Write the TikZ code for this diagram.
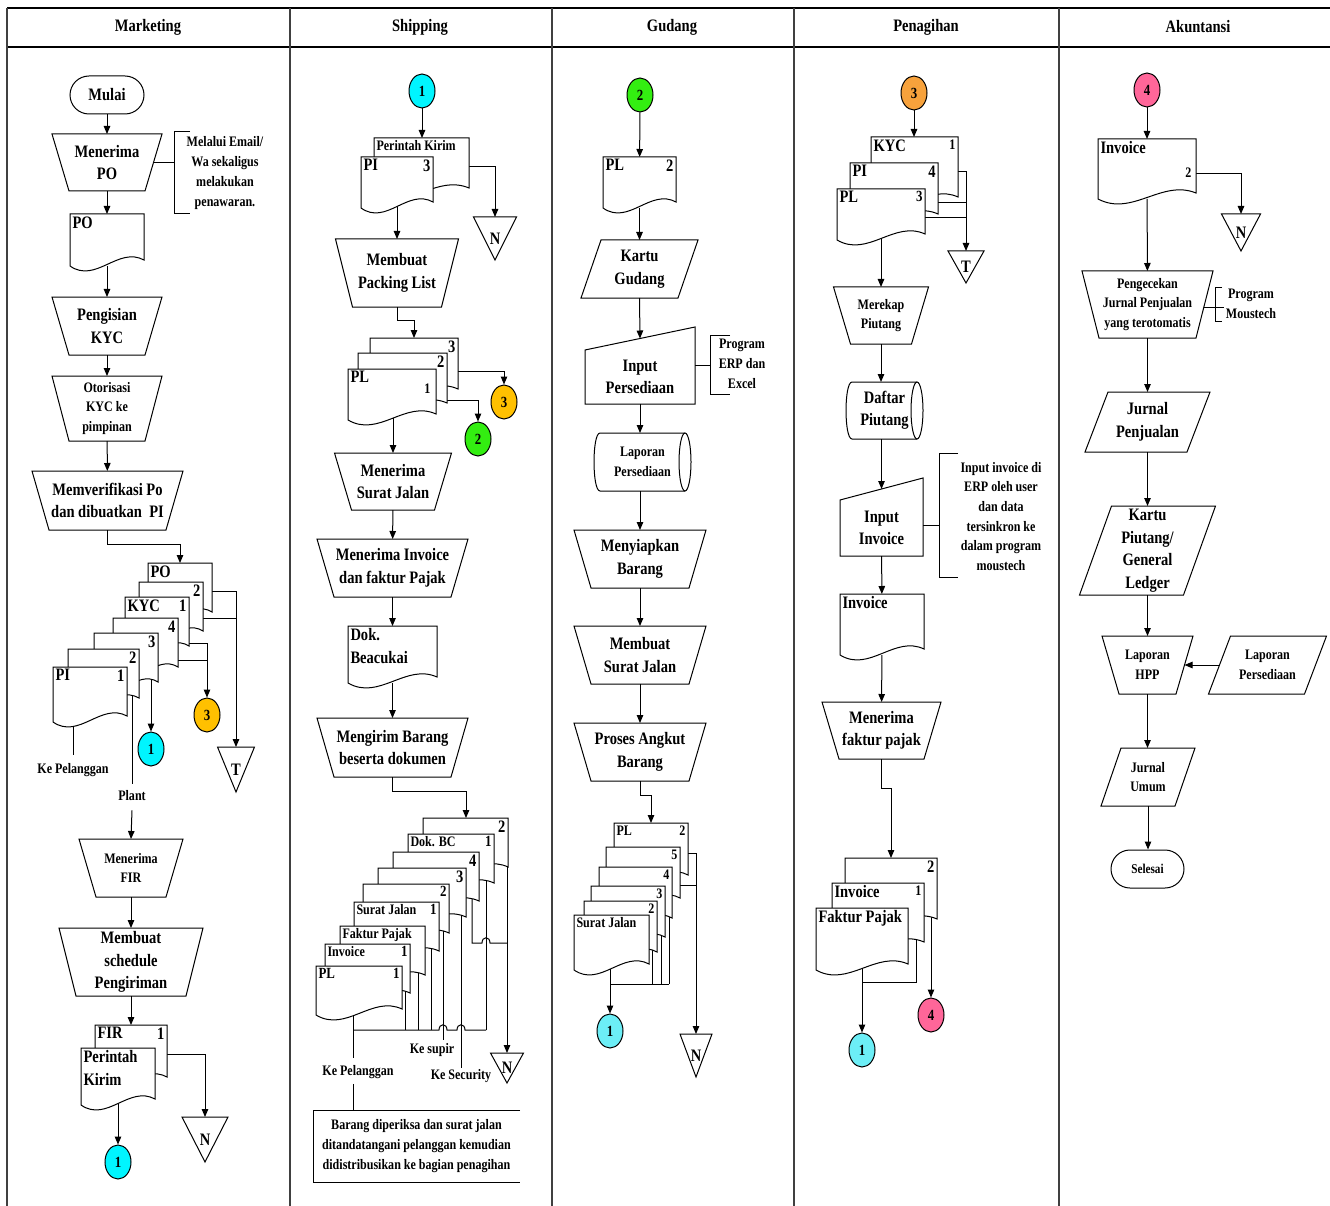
\documentclass[tikz,border=0pt]{standalone}
\usepackage{fontspec}
\setmainfont{Liberation Serif}[FakeStretch=0.83]
\usetikzlibrary{shapes.geometric,shapes.misc,calc,arrows.meta}
\pgfdeclarelayer{back}
\pgfdeclarelayer{bg}
\pgfsetlayers{back,bg,main}
\definecolor{cyanA}{HTML}{00F5FF}
\definecolor{cyanB}{HTML}{6CEEF6}
\definecolor{grn}{HTML}{33EE11}
\definecolor{gold}{HTML}{FFC000}
\definecolor{orng}{HTML}{F7A23C}
\definecolor{pnk}{HTML}{FF6699}
\newcommand\fbig{\fontsize{17.5}{22.5}\selectfont}
\newcommand\fmid{\fontsize{15.5}{20}\selectfont}
\newcommand\fsm{\fontsize{14.5}{19.7}\selectfont}
\tikzset{
 shp/.style={draw, line width=1pt, line join=miter},
 box/.style={inner sep=0pt, outer sep=0pt, align=center, font=\bfseries\fbig},
 sm/.style={font=\bfseries\fsm},
 dl/.style={inner sep=2.5pt, outer sep=0pt, align=left, font=\bfseries\fbig},
 lbl/.style={inner sep=1pt, align=center, font=\bfseries\fsm},
 conn/.style={ellipse, draw, line width=1pt, minimum width=26, minimum height=34, inner sep=0pt, font=\bfseries\fmid},
 term/.style={rounded rectangle, draw, line width=1pt, inner sep=0pt, font=\bfseries\fbig},
 ln/.style={line width=1pt},
 arr/.style={line width=1pt, -{Triangle[length=8pt,width=6.5pt]}},
}
% manual operation: [opts] name, cx, top y, top width, height, text
\newcommand\ManOp[7][]{%
  \node[box, #1, minimum width=#5, minimum height=#6] (#2) at (#3,{#4+#6/2}) {#7};
  \draw[shp] (#2.north west) -- (#2.north east) -- ($(#2.south east)+(-17,0)$) -- ($(#2.south west)+(17,0)$) -- cycle;}
% parallelogram: [opts] name, cx, top y, width, height, shift, text
\newcommand\Para[8][]{%
  \node[box, #1, minimum width=#5, minimum height=#6] (#2) at (#3,{#4+#6/2}) {#8};
  \draw[shp] ($(#2.north west)+(#7/2,0)$) -- ($(#2.north east)+(#7/2,0)$) -- ($(#2.south east)+(-#7/2,0)$) -- ($(#2.south west)+(-#7/2,0)$) -- cycle;}
% manual input: name, x1, y top-left, x2, y top-right, y bottom, text
\newcommand\ManIn[7]{%
  \node[box, minimum width={#4-#2}, minimum height={#6-#3}] (#1) at ({(#2+#4)/2},{(#3+#6)/2}) {#7};
  \draw[shp] (#1.north west) -- ($(#1.north east)+(0,{#5-#3})$) -- (#1.south east) -- (#1.south west) -- cycle;
  \coordinate (#1-top) at ($(#1.north)+(0,{(#5-#3)/2})$);}
% stored data cylinder: [opts] name, x1, yt, x2, yb, text
\newcommand\Cyl[7][]{%
  \node[box, #1, minimum width={#5-#3}, minimum height={#6-#4}] (#2) at ({(#3+#5)/2},{(#4+#6)/2}) {#7};
  \draw[shp] ({#5-6},#4) -- ({#3+6},#4) .. controls ({#3-2},#4) and ({#3-2},#6) .. ({#3+6},#6) -- ({#5-6},#6);
  \draw[shp] ({#5-6},{(#4+#6)/2}) ellipse [x radius=6, y radius={(#6-#4)/2}];}
% off-page triangle: name, cx, top y, width, height, letter
\newcommand\OffPg[6]{%
  \node[box, minimum width=#4, minimum height=#5] (#1) at (#2,{#3+#5/2}) {#6};
  \draw[shp] (#1.north west) -- (#1.north east) -- (#1.south) -- cycle;}
% document: name, x1, y1, x2, y bottom-left
\newcommand\Doc[5]{%
  \node[box, minimum width={#4-#2}, minimum height={#5-#3}] (#1) at ({(#2+#4)/2},{(#3+#5)/2}) {};
  \draw[shp, fill=white] (#2,#5) -- (#2,#3) -- (#4,#3) -- (#4,{#5-6}) .. controls ({#2+0.65*(#4-#2)},{#5-20}) and ({#2+0.35*(#4-#2)},{#5+18}) .. (#2,#5) -- cycle;}
\newcommand\DocL[2]{\node[dl, anchor=north west] (#1-l) at (#1.north west) {#2};}
\newcommand\DocN[2]{\node[dl, anchor=north east] (#1-n) at (#1.north east) {#2};}

\begin{document}
\begin{tikzpicture}[x=1pt,y=-1pt]
\useasboundingbox (0,0) rectangle (1330,1206);
\begin{pgfonlayer}{back}
\fill[white] (0,0) rectangle (1330,1206);
\end{pgfonlayer}
% ---------- frame ----------
\draw[line width=1.2pt] (7,8) -- (1330,8);
\draw[line width=1.5pt] (7,47) -- (1330,47);
\foreach \x in {7,290,552,794,1059} \draw[line width=1.2pt, black!75] (\x,8) -- (\x,1206);
\node[font=\bfseries\fbig] (hMk) at (148,27) {Marketing};
\node[font=\bfseries\fbig] (hSh) at (420,27) {Shipping};
\node[font=\bfseries\fbig] (hGd) at (672,27) {Gudang};
\node[font=\bfseries\fbig] (hPn) at (926,27) {Penagihan};
\node[font=\bfseries\fbig] (hAk) at (1198,27) {Akuntansi};

% ---------- Marketing ----------
\node[term, minimum width=74, minimum height=38] (mulai) at (107,95) {Mulai};
\ManOp{mpo}{107}{134}{110}{57}{Menerima\\PO}
\node[lbl] (mnote) at (225,173) {Melalui Email/\\Wa sekaligus\\melakukan\\penawaran.};
\draw[ln] (190,132) -- (174,132) -- (174,214) -- (190,214);
\Doc{mpod}{70}{214}{144}{266} \DocL{mpod}{PO}
\ManOp{mkyc}{107}{297}{110}{58}{Pengisian\\KYC}
\ManOp[sm]{motr}{107}{376}{110}{65}{Otorisasi\\KYC ke\\pimpinan}
\ManOp{mver}{107.5}{471}{151}{59}{Memverifikasi Po\\dan dibuatkan\ \ PI}
\Doc{ma1}{148}{563}{212}{618} \DocL{ma1}{PO}
\Doc{ma2}{139}{582}{203}{637} \DocN{ma2}{2}
\Doc{ma3}{125}{597}{189}{652} \DocL{ma3}{KYC} \DocN{ma3}{1}
\Doc{ma4}{113}{618}{178}{673} \DocN{ma4}{4}
\Doc{ma5}{94}{633}{158}{688} \DocN{ma5}{3}
\Doc{ma6}{68}{649}{139}{704} \DocN{ma6}{2}
\Doc{ma7}{53}{667}{127}{722} \DocL{ma7}{PI} \DocN{ma7}{1}
\node[conn, fill=cyanA] (m1c) at (151,749) {1};
\node[conn, fill=gold] (m3c) at (207,715) {3};
\OffPg{mT}{236}{747}{37}{45}{T}
\node[lbl] (mkp) at (73,770) {Ke Pelanggan};
\node[lbl] (mplant) at (132,796) {Plant};
\ManOp[sm]{mfir}{131}{839}{104}{58}{Menerima\\FIR}
\ManOp{msch}{131}{928}{144}{68}{Membuat\\schedule\\Pengiriman}
\Doc{mfird}{95}{1025}{167}{1083} \DocL{mfird}{FIR} \DocN{mfird}{1}
\Doc{mpk}{81}{1048}{155}{1105} \DocL{mpk}{Perintah\\Kirim}
\node[conn, fill=cyanA] (m1d) at (118,1162) {1};
\OffPg{mN}{205}{1117}{46}{45}{N}

% ---------- Shipping ----------
\node[conn, fill=cyanA] (s1c) at (422,91) {1};
\Doc{spk}{374}{138}{469}{194} \DocL{spk}{\fsm Perintah Kirim}
\Doc{spi}{361}{157}{433}{208} \DocL{spi}{PI} \DocN{spi}{3}
\OffPg{sN1}{495}{217}{43}{43}{N}
\ManOp{smpl}{397}{239}{123}{68}{Membuat\\Packing List}
\Doc{sa3}{370}{338}{458}{395} \DocN{sa3}{3}
\Doc{sa2}{358}{353}{447}{409} \DocN{sa2}{2}
\Doc{spl}{348}{369}{436}{420} \DocL{spl}{PL}
\node[dl, anchor=north east] (spl-n) at ($(spl.north east)+(-3,12)$) {\fsm 1};
\node[conn, fill=gold] (s3c) at (504,402) {3};
\node[conn, fill=grn] (s2c) at (478,439) {2};
\ManOp{smsj}{393}{453}{117}{57}{Menerima\\Surat Jalan}
\ManOp{smi}{392.5}{539}{151}{58}{Menerima Invoice\\dan faktur Pajak}
\Doc{sdok}{348}{626}{437}{683} \DocL{sdok}{Dok.\\Beacukai}
\ManOp{smb}{392.5}{718}{151}{59}{Mengirim Barang\\beserta dokumen}
\Doc{sb1}{423}{818}{508}{873} \DocN{sb1}{2}
\Doc{sb2}{408}{834}{494}{889} \DocL{sb2}{\fsm Dok. BC} \DocN{sb2}{\fmid 1}
\Doc{sb3}{393}{852}{479}{907} \DocN{sb3}{4}
\Doc{sb4}{378}{868}{466}{923} \DocN{sb4}{3}
\Doc{sb5}{363}{884}{449}{939} \DocN{sb5}{\fmid 2}
\Doc{sb6}{354}{902}{439}{957} \DocL{sb6}{\fsm Surat Jalan} \DocN{sb6}{\fmid 1}
\Doc{sb7}{340}{926}{425}{981} \DocL{sb7}{\fsm Faktur Pajak}
\Doc{sb8}{325}{944}{410}{999} \DocL{sb8}{\fsm Invoice} \DocN{sb8}{\fmid 1}
\Doc{sb9}{316}{966}{402}{1015} \DocL{sb9}{\fmid PL} \DocN{sb9}{\fmid 1}
\OffPg{sN2}{507}{1053}{33}{30}{N}
\node[lbl] (ssup) at (432,1050) {Ke supir};
\node[lbl] (ssec) at (461,1076) {Ke Security};
\node[lbl] (spel) at (358,1072) {Ke Pelanggan};
\node[box, sm, minimum width=207, minimum height=72] (sbox) at (416.5,1146) {Barang diperiksa dan surat jalan\\ditandatangani pelanggan kemudian\\didistribusikan ke bagian penagihan};
\draw[shp] (sbox.north east) -- (sbox.north west) -- (sbox.south west) -- (sbox.south east);

% ---------- Gudang ----------
\node[conn, fill=grn] (g2c) at (640,95) {2};
\Doc{gpl}{603}{157}{676}{208} \DocL{gpl}{PL} \DocN{gpl}{2}
\Para{gkg}{639.5}{240}{97}{58}{20}{Kartu\\Gudang}
\ManIn{ginp}{585}{350}{695}{327}{404}{Input\\Persediaan}
\draw[ln] (730,335) -- (710,335) -- (710,394) -- (730,394);
\node[lbl] (gnote) at (742,364) {Program\\ERP dan\\Excel};
\Cyl[sm]{glp}{594}{433}{691}{491}{Laporan\\Persediaan}
\ManOp{gmb}{640}{530}{132}{58}{Menyiapkan\\Barang}
\ManOp{gmsj}{640}{626}{132}{58}{Membuat\\Surat Jalan}
\ManOp{gpab}{640}{723}{132}{58}{Proses Angkut\\Barang}
\Doc{gs1}{614}{823}{688}{881} \DocL{gs1}{\fsm PL} \DocN{gs1}{\fsm 2}
\Doc{gs2}{606}{847}{680}{904} \DocN{gs2}{\fsm 5}
\Doc{gs3}{599}{867}{672}{924} \DocN{gs3}{\fsm 4}
\Doc{gs4}{591}{886}{665}{943} \DocN{gs4}{\fsm 3}
\Doc{gs5}{584}{901}{657}{958} \DocN{gs5}{\fsm 2}
\Doc{gs6}{574}{915}{649}{970} \DocL{gs6}{\fsm Surat Jalan}
\node[conn, fill=cyanB] (g1c) at (610,1031) {1};
\OffPg{gN}{696}{1034}{32}{43}{N}

% ---------- Penagihan ----------
\node[conn, fill=orng] (p3c) at (914,93) {3};
\Doc{pk}{871}{137}{958}{203} \DocL{pk}{KYC} \DocN{pk}{\fsm 1}
\Doc{pi}{850}{163}{938}{220} \DocL{pi}{PI} \DocN{pi}{4}
\Doc{pp}{837}{189}{925}{240} \DocL{pp}{PL} \DocN{pp}{\fmid 3}
\OffPg{pT}{966}{251}{36}{32}{T}
\ManOp[sm]{pmp}{881}{287}{95}{57}{Merekap\\Piutang}
\Cyl{pdp}{846}{382}{923}{439}{Daftar\\Piutang}
\ManIn{pii}{840}{500}{923}{478}{556}{Input\\Invoice}
\draw[ln] (958,453) -- (939,453) -- (939,577) -- (958,577);
\node[lbl] (pnote) at (1001,516.5) {Input invoice di\\ERP oleh user\\dan data\\tersinkron ke\\dalam program\\moustech};
\Doc{pinv}{840}{594}{924}{655} \DocL{pinv}{Invoice}
\ManOp{pmfp}{881.5}{702}{119}{57}{Menerima\\faktur pajak}
\Doc{pq1}{845}{858}{937}{925} \DocN{pq1}{2}
\Doc{pq2}{832}{883}{924}{948} \DocL{pq2}{Invoice} \DocN{pq2}{\fsm 1}
\Doc{pq3}{816}{908}{908}{970} \DocL{pq3}{Faktur Pajak}
\node[conn, fill=pnk] (p4c) at (931,1015) {4};
\node[conn, fill=cyanB] (p1c) at (862,1050) {1};

% ---------- Akuntansi ----------
\node[conn, fill=pnk] (a4c) at (1147,90) {4};
\Doc{ainv}{1098}{139}{1196}{199} \DocL{ainv}{Invoice}
\node[dl, anchor=east] (ainv-n) at ($(ainv.north east)+(-2,34)$) {\fsm 2};
\OffPg{aN}{1241}{214}{39}{37}{N}
\ManOp[sm]{apj}{1147.5}{271}{131}{67}{Pengecekan\\Jurnal Penjualan\\yang terotomatis}
\draw[ln] (1222,288) -- (1215,288) -- (1215,321) -- (1222,321);
\node[lbl] (anote) at (1251,304) {Program\\Moustech};
\Para{ajp}{1147.5}{392}{102}{60}{23}{Jurnal\\Penjualan}
\Para{akp}{1147.5}{506}{104}{89}{32}{Kartu\\Piutang/\\General\\Ledger}
\ManOp[sm]{ahpp}{1147.5}{636}{91}{58}{Laporan\\HPP}
\Para[sm]{alp}{1267.5}{636}{96}{58}{22}{Laporan\\Persediaan}
\Para[sm]{aju}{1148}{748}{74}{58}{20}{Jurnal\\Umum}
\node[term, minimum width=73, minimum height=38, font=\bfseries\fontsize{13.5}{16}\selectfont] (asel) at (1147.5,869) {Selesai};

% ---------- connectors ----------
\begin{pgfonlayer}{bg}
% Marketing
\draw[arr] (mulai) -- (mpo);
\draw[ln] ($(mpo.east)+(-8.5,0)$) -- ++(20.5,0);
\draw[arr] (mpo) -- (mpod);
\draw[arr] (mpod) -- (mkyc);
\draw[arr] (mkyc) -- (motr);
\draw[arr] (motr) -- (mver);
\draw[arr] (mver.south) -- ++(0,14) -| ($(ma1.north west)+(32,0)$);
\draw[arr] ($(ma1.north east)+(0,28)$) -| (mT.north);
\draw[ln] ($(ma2.north east)+(0,36)$) -- ++(33,0);
\draw[arr] ($(ma3.north east)+(0,46)$) -| (m3c.north);
\draw[ln] ($(ma4.north east)+(0,42)$) -- ++(29,0);
\draw[arr] ($(ma5.south west)+(57,-10)$) -- (m1c.north);
\draw[ln] ($(ma6.south west)+(64,-12)$) -- ($(mplant.north)+(0,-6)$);
\draw[ln] ($(ma7.south west)+(20,-5)$) -- ($(mkp.north)+(0,-7)$);
\draw[arr] ($(mplant.south)+(0,8)$) -- (mfir.north);
\draw[arr] (mfir) -- (msch);
\draw[arr] (msch) -- (mfird);
\draw[arr] ($(mfird.north east)+(0,29)$) -| (mN.north);
\draw[arr] ($(mpk.south)+(0,-5)$) -- (m1d.north);
% Shipping
\draw[arr] (s1c.south) -- (s1c.south |- spk.north);
\draw[arr] ($(spk.north east)+(0,29)$) -| (sN1.north);
\draw[arr] ($(smpl.north |- spi.south)+(0,-5)$) -- (smpl.north);
\draw[arr] (smpl.south) -- ++(0,13) -| ($(sa3.north west)+(44,0)$);
\draw[arr] ($(sa3.north east)+(0,33)$) -| (s3c.north);
\draw[arr] ($(sa2.north east)+(0,47)$) -| (s2c.north);
\draw[arr] ($(smsj.north |- spl.south)+(0,-5)$) -- (smsj.north);
\draw[arr] (smsj) -- (smi);
\draw[arr] (smi) -- (sdok);
\draw[arr] (sdok) -- (smb);
\draw[arr] (smb.south) -- ++(0,14) -| ($(sb1.north west)+(43,0)$);
\draw[arr] ($(sN2.north |- sb1.south)+(0,-12)$) -- (sN2.north);
\coordinate (scol) at ($(sb9.south west)+(37,15)$);
\draw[ln] (scol) -- ++(86,0) .. controls ++(0,-7) and ++(0,-7) .. ++(8,0) -- ++(10,0) .. controls ++(0,-7) and ++(0,-7) .. ++(8,0) -- ++(21,0);
\draw[ln] ($(sb9.south west)+(37,-8)$) -- ($(spel.north)+(-5,-6)$);
\draw[ln] ($(spel.south)+(-5,4)$) -- ($(sbox.north west)+(40,0)$);
\draw[ln] ($(sb8.south east)+(-5,-12)$) -- ++(0,43);
\draw[ln] ($(sb7.south east)+(-7,-12)$) -- ++(0,61);
\draw[ln] ($(sb6.south east)+(-8,-12)$) -- ++(0,85);
\draw[ln] ($(sb5.south east)+(-6,-12)$) -- ($(ssup.north)+(11,-2)$);
\draw[ln] ($(sb4.south east)+(-5,-12)$) -- (ssec.north);
\draw[ln] ($(sb2.south east)+(-8,-12)$) -- ++(0,153);
\draw[ln] ($(sb3.south east)+(-7,-12)$) -- ++(0,48) -- ++(10,0) .. controls ++(0,-7) and ++(0,-7) .. ++(8,0) -- ++(17,0);
% Gudang
\draw[arr] (g2c) -- (gpl);
\draw[arr] (gpl) -- (gkg);
\draw[arr] (gkg.south) -- (ginp-top);
\draw[ln] ($(ginp.east)+(0,-12)$) -- ++(15,0);
\draw[arr] (ginp.south) -- (ginp.south |- glp.north);
\draw[arr] (glp.south -| gmb.north) -- (gmb.north);
\draw[arr] (gmb) -- (gmsj);
\draw[arr] (gmsj) -- (gpab);
\draw[arr] (gpab.south) -- ++(0,14) -| ($(gs1.north west)+(37,0)$);
\draw[arr] ($(gs1.north east)+(0,30)$) -| (gN.north);
\draw[ln] ($(gs2.north east)+(0,38)$) -- ++(16,0);
\draw[arr] ($(gs6.south west)+(36,-10)$) -- (g1c.north);
\draw[ln] ($(gs6.south west)+(36,14)$) -- ++(59,0);
\draw[ln] ($(gs5.south east)+(-5,-12)$) -- ++(0,38);
\draw[ln] ($(gs4.south east)+(-4,-12)$) -- ++(0,53);
\draw[ln] ($(gs3.south east)+(-3,-12)$) -- ++(0,72);
% Penagihan
\draw[arr] (p3c) -- (p3c |- pk.north);
\draw[arr] ($(pk.north east)+(0,35)$) -| (pT.north);
\draw[ln] ($(pi.north east)+(0,40)$) -- ++(28,0);
\draw[ln] ($(pp.north east)+(0,29)$) -- ++(41,0);
\draw[arr] ($(pmp.north |- pp.south)+(0,-5)$) -- (pmp.north);
\draw[arr] (pmp.south) -- (pmp.south |- pdp.north);
\draw[arr] (pdp.south -| pii-top) -- (pii-top);
\draw[ln] ($(pii.east)+(0,-3)$) -- ++(16,0);
\draw[arr] (pii) -- (pinv);
\draw[arr] (pinv) -- (pmfp);
\draw[arr] (pmfp.south) -- ++(0,29) -| ($(pq1.north west)+(46,0)$);
\draw[arr] ($(pq1.south east)+(-6,-12)$) -- (p4c.north);
\draw[ln] ($(pq2.south east)+(-8,-10)$) |- ($(pq3.south west)+(46,12)$);
\draw[arr] ($(pq3.south west)+(46,-8)$) -- (p1c.north);
% Akuntansi
\draw[arr] (a4c) -- (ainv);
\draw[arr] ($(ainv.north east)+(0,35)$) -| (aN.north);
\draw[arr] (ainv) -- (apj);
\draw[ln] ($(apj.east)+(-9,2.5)$) -- ++(20,0);
\draw[arr] (apj) -- (ajp);
\draw[arr] (ajp) -- (akp);
\draw[arr] (akp) -- (ahpp);
\draw[arr] (ahpp.south) -- (ahpp.south |- aju.north);
\draw[arr] (alp.west) -- ($(ahpp.east)+(-8.5,0)$);
\draw[arr] (aju.south) -- (aju.south |- asel.north);
\end{pgfonlayer}
\end{tikzpicture}
\end{document}
